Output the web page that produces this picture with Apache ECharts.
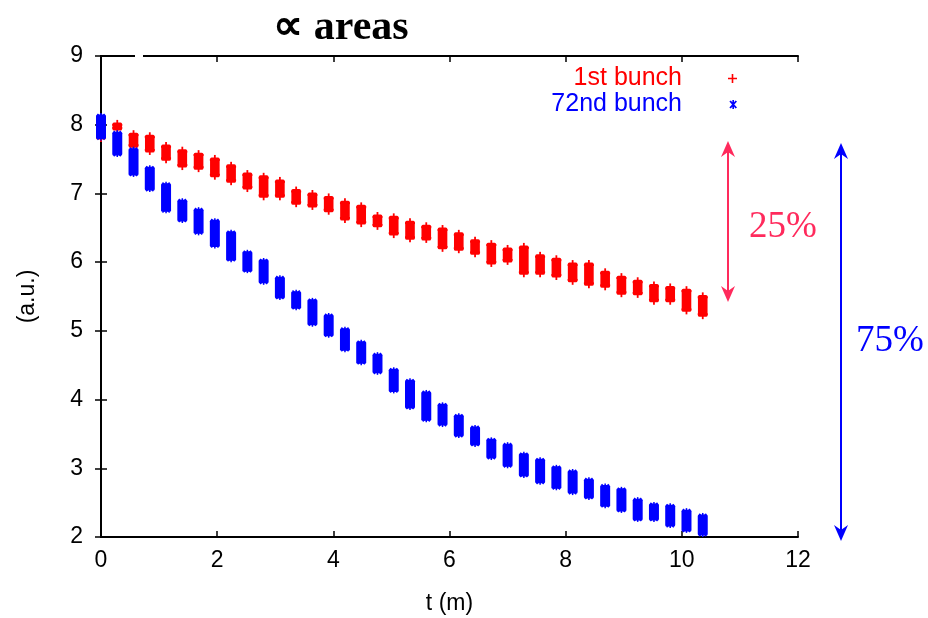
<!DOCTYPE html>
<html>
<head>
<meta charset="utf-8">
<script src="https://cdn.jsdelivr.net/npm/echarts@6/dist/echarts.min.js"></script>
<style>
  html, body { margin: 0; padding: 0; background: #ffffff; }
  #chart { width: 928px; height: 618px; }
</style>
</head>
<body>
<div id="chart"></div>
<script>
// Sampling times (minutes), one cluster of bunch measurements per time
const timeMin = [0, 0.28, 0.56, 0.84, 1.12, 1.40, 1.68, 1.96, 2.24, 2.52,
  2.80, 3.08, 3.36, 3.64, 3.92, 4.20, 4.48, 4.76, 5.04, 5.32,
  5.60, 5.88, 6.16, 6.44, 6.72, 7.00, 7.28, 7.56, 7.84, 8.12,
  8.40, 8.68, 8.96, 9.24, 9.52, 9.80, 10.08, 10.36];

// 1st bunch: lowest and highest value in each cluster
const firstLow = [7.75, 7.88, 7.63, 7.56, 7.44, 7.34, 7.31, 7.20, 7.12, 7.02,
  6.90, 6.90, 6.80, 6.76, 6.69, 6.57, 6.51, 6.47, 6.35, 6.29,
  6.28, 6.15, 6.13, 6.07, 5.93, 5.96, 5.78, 5.78, 5.74, 5.67,
  5.62, 5.59, 5.49, 5.48, 5.38, 5.38, 5.24, 5.17];
const firstHigh = [8.05, 8.07, 7.92, 7.89, 7.75, 7.68, 7.63, 7.56, 7.46, 7.34,
  7.30, 7.24, 7.10, 7.05, 7.00, 6.93, 6.87, 6.73, 6.71, 6.64,
  6.58, 6.54, 6.47, 6.37, 6.32, 6.25, 6.28, 6.15, 6.10, 6.03,
  6.03, 5.91, 5.84, 5.78, 5.72, 5.69, 5.65, 5.56];

// 72nd bunch: lowest and highest value in each cluster
const lastLow = [7.77, 7.53, 7.24, 7.02, 6.71, 6.57, 6.39, 6.20, 6.00, 5.84,
  5.67, 5.45, 5.30, 5.06, 4.90, 4.69, 4.50, 4.36, 4.09, 3.85,
  3.67, 3.60, 3.44, 3.31, 3.12, 3.00, 2.86, 2.76, 2.68, 2.61,
  2.54, 2.42, 2.35, 2.22, 2.22, 2.13, 2.06, 2.00];
const lastHigh = [8.17, 7.92, 7.68, 7.41, 7.17, 6.93, 6.80, 6.64, 6.47, 6.18,
  6.06, 5.81, 5.60, 5.48, 5.26, 5.06, 4.87, 4.69, 4.47, 4.31,
  4.14, 3.96, 3.80, 3.63, 3.45, 3.38, 3.24, 3.16, 3.05, 2.99,
  2.87, 2.78, 2.73, 2.58, 2.51, 2.49, 2.42, 2.35];

const xTicks = [0, 12, 2];   // min, max, step
const yTicks = [2, 9, 1];

const RED = '#ff0000';
const BLUE = '#0000ff';
const PINK = '#ff2a5c';

const makeRows = (lo, hi) => timeMin.map((t, i) => [t, lo[i], hi[i]]);

// A cluster drawn as a dense column of markers: filled body with a marker at each end
function plusMarker(cx, cy, s, color) {
  return [
    { type: 'line', shape: { x1: cx - s, y1: cy, x2: cx + s, y2: cy }, style: { stroke: color, lineWidth: 1.8 } },
    { type: 'line', shape: { x1: cx, y1: cy - s, x2: cx, y2: cy + s }, style: { stroke: color, lineWidth: 1.8 } }
  ];
}
function starMarker(cx, cy, s, color) {
  const d = s * 0.8;
  return [
    { type: 'line', shape: { x1: cx, y1: cy - s, x2: cx, y2: cy + s }, style: { stroke: color, lineWidth: 1.5 } },
    { type: 'line', shape: { x1: cx - d, y1: cy - d, x2: cx + d, y2: cy + d }, style: { stroke: color, lineWidth: 1.5 } },
    { type: 'line', shape: { x1: cx - d, y1: cy + d, x2: cx + d, y2: cy - d }, style: { stroke: color, lineWidth: 1.5 } }
  ];
}
function clusterRenderer(kind, color) {
  return function (params, api) {
    const top = api.coord([api.value(0), api.value(2)]);
    const bot = api.coord([api.value(0), api.value(1)]);
    const cx = top[0];
    const half = kind === 'plus' ? 4.8 : 5;
    const inset = kind === 'plus' ? 2.5 : 1.5;
    const y1 = top[1] + inset, y2 = bot[1] - inset;
    const children = [{
      type: 'rect',
      shape: { x: cx - half, y: y1, width: half * 2, height: Math.max(1, y2 - y1), r: 1.5 },
      style: { fill: color }
    }];
    const mk = kind === 'plus' ? plusMarker : starMarker;
    const s = kind === 'plus' ? 5 : 4.5;
    children.push(...mk(cx, top[1] + s, s, color));
    children.push(...mk(cx, bot[1] - s, s, color));
    return { type: 'group', children: children };
  };
}

const plusIcon = 'path://M0,5 M41,4.2 L50,4.2 L50,5.8 L41,5.8 Z M44.7,0.5 L46.3,0.5 L46.3,9.5 L44.7,9.5 Z';
const starIcon = 'path://M0,5 M45.2,0.5 L46.8,0.5 L46.8,9.5 L45.2,9.5 Z M42.2,2 L43.6,0.9 L49.8,8 L48.4,9.1 Z M42.2,8 L48.4,0.9 L49.8,2 L43.6,9.1 Z';

const sans = '"Liberation Sans", Arial, sans-serif';
const serif = '"Liberation Serif", "Times New Roman", serif';
const axisFont = { fontFamily: sans, fontSize: 23, color: '#000' };
const axisLine = { show: true, lineStyle: { color: '#000', width: 2 } };
const tickStyle = { show: true, inside: true, length: 6, lineStyle: { color: '#000', width: 1.5 } };

const chart = echarts.init(document.getElementById('chart'), null, { renderer: 'canvas' });
chart.setOption({
  backgroundColor: '#ffffff',
  animation: false,
  title: {
    text: '\u221D areas',
    left: 336, top: 2, textAlign: 'center',
    textStyle: { fontFamily: serif, fontWeight: 'bold', fontSize: 42, color: '#000' }
  },
  legend: {
    orient: 'vertical',
    right: 186, top: 61,
    align: 'right',
    itemWidth: 50, itemHeight: 10, itemGap: 1,
    selectedMode: false,
    textStyle: { fontFamily: sans, fontSize: 25, lineHeight: 25, padding: [0, 0, 0, 0] },
    data: [
      { name: '1st bunch', icon: plusIcon, textStyle: { color: RED } },
      { name: '72nd bunch', icon: starIcon, textStyle: { color: BLUE } }
    ]
  },
  grid: { left: 101, right: 130, top: 56, bottom: 81, containLabel: false, outerBoundsMode: 'none' },
  xAxis: [{
    type: 'value', min: xTicks[0], max: xTicks[1], interval: xTicks[2],
    name: 't (m)', nameLocation: 'middle', nameGap: 55,
    nameTextStyle: { fontFamily: sans, fontSize: 23, color: '#000' },
    axisLine: axisLine,
    axisTick: tickStyle,
    axisLabel: Object.assign({ margin: 12 }, axisFont),
    splitLine: { show: false }
  }, {
    type: 'value', position: 'top', min: xTicks[0], max: xTicks[1], interval: xTicks[2],
    axisLine: axisLine,
    axisTick: tickStyle,
    axisLabel: { show: false },
    splitLine: { show: false }
  }],
  yAxis: [{
    type: 'value', min: yTicks[0], max: yTicks[1], interval: yTicks[2],
    name: '(a.u.)', nameLocation: 'middle', nameGap: 62, nameRotate: 90,
    nameTextStyle: { fontFamily: sans, fontSize: 23, color: '#000' },
    axisLine: axisLine,
    axisTick: tickStyle,
    axisLabel: Object.assign({ margin: 18 }, axisFont),
    splitLine: { show: false }
  }, {
    type: 'value', position: 'right', min: yTicks[0], max: yTicks[1], interval: yTicks[2],
    axisLine: axisLine,
    axisTick: tickStyle,
    axisLabel: { show: false },
    splitLine: { show: false }
  }],
  series: [{
    name: '1st bunch',
    type: 'custom',
    xAxisIndex: 0, yAxisIndex: 0,
    itemStyle: { color: RED },
    renderItem: clusterRenderer('plus', RED),
    encode: { x: 0, y: [1, 2] },
    data: makeRows(firstLow, firstHigh),
    z: 2
  }, {
    name: '72nd bunch',
    type: 'custom',
    xAxisIndex: 0, yAxisIndex: 0,
    itemStyle: { color: BLUE },
    renderItem: clusterRenderer('star', BLUE),
    encode: { x: 0, y: [1, 2] },
    data: makeRows(lastLow, lastHigh),
    z: 3
  }]
});

// Relative-loss annotations: double arrows at the right of the plot
function doubleArrow(x, yTop, yBot, color) {
  const hw = 7, hl = 16, notch = 5;
  return {
    type: 'group',
    children: [
      { type: 'line', shape: { x1: x, y1: yTop + hl - notch, x2: x, y2: yBot - hl + notch }, style: { stroke: color, lineWidth: 2 } },
      { type: 'polygon', shape: { points: [[x, yTop], [x + hw, yTop + hl], [x, yTop + hl - notch], [x - hw, yTop + hl]] }, style: { fill: color } },
      { type: 'polygon', shape: { points: [[x, yBot], [x + hw, yBot - hl], [x, yBot - hl + notch], [x - hw, yBot - hl]] }, style: { fill: color } }
    ]
  };
}
chart.setOption({
  graphic: [
    { type: 'rect', shape: { x: 135, y: 53, width: 8, height: 6 }, style: { fill: '#ffffff' }, z: 10 },
    doubleArrow(728, 141, 302, PINK),
    doubleArrow(841, 143, 541, BLUE),
    { type: 'text', x: 783, y: 227, style: { text: '25%', fill: PINK, font: '37px ' + serif, align: 'center', verticalAlign: 'middle' } },
    { type: 'text', x: 890, y: 341, style: { text: '75%', fill: BLUE, font: '37px ' + serif, align: 'center', verticalAlign: 'middle' } }
  ]
});
</script>
</body>
</html>
